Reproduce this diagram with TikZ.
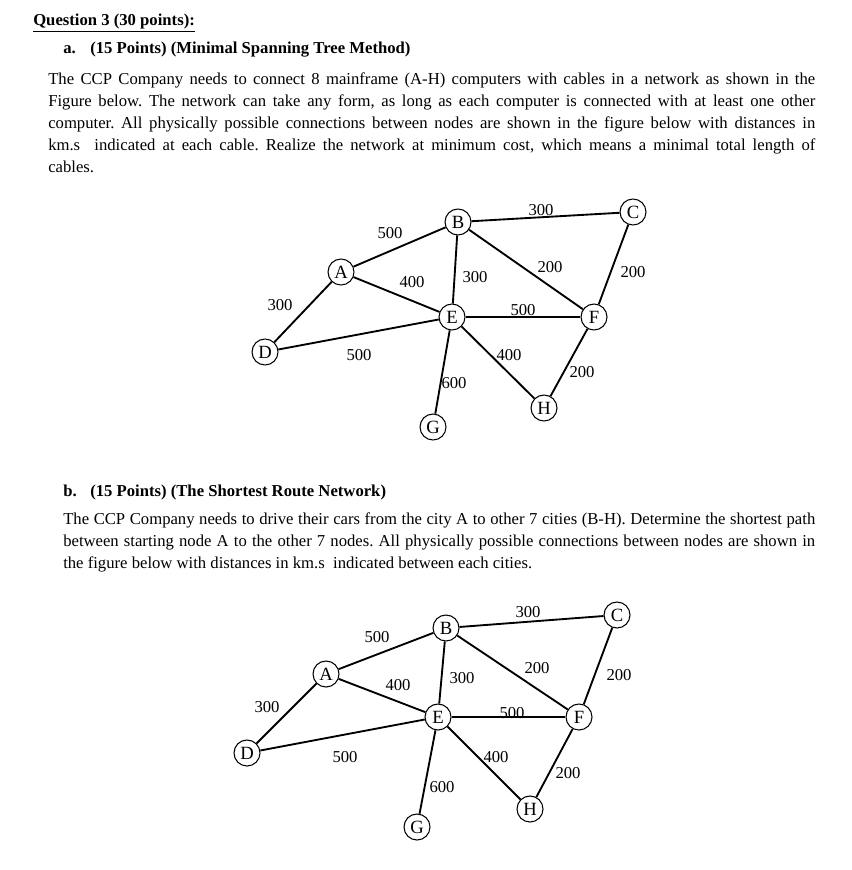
\documentclass[tikz,border=0pt]{standalone}
\usepackage{fontspec}
\setmainfont{Liberation Serif}
\frenchspacing
\usetikzlibrary{positioning}

\begin{document}
\begin{tikzpicture}[x=0.75pt,y=-0.75pt,
  city/.style={draw,circle,line width=0.8pt,minimum size=19.5pt,inner sep=0pt,font=\fontsize{14}{14}\selectfont},
  dist/.style={inner sep=0pt,font=\fontsize{12.5}{12.5}\selectfont},
  cable/.style={line width=1.4pt},
  para/.style={anchor=north west,inner sep=0pt,align=justify,font=\fontsize{12.5}{16.5}\selectfont},
  head/.style={anchor=base west,inner sep=0pt,font=\fontsize{12.5}{14}\selectfont\bfseries}]
  \useasboundingbox[fill=white] (0,0) rectangle (851,870);
  % Question heading
  \node[head] (quest) at (33,26) {\underline{Question 3 (30 points):}};
  \node[head] (parta) at (63,54) {a.};
  \node[head] (titlea) at (90,54) {(15 Points) (Minimal Spanning Tree Method)};
  \node[para,text width=575.25pt] (texta) at (48,72) {The CCP Company needs to connect 8 mainframe (A-H) computers with cables in a network as shown in the\linebreak
    Figure below. The network can take any form, as long as each computer is connected with at least one other\linebreak
    computer. All physically possible connections between nodes are shown in the figure below with distances in\linebreak
    km.s~ indicated at each cable. Realize the network at minimum cost, which means a minimal total length of\linebreak
    cables.};
  % Spanning tree network
  \node[city] (a1) at (341,272) {A};
  \node[city] (b1) at (458,222) {B};
  \node[city] (c1) at (633,212) {C};
  \node[city] (d1) at (265,352) {D};
  \node[city] (e1) at (452,317) {E};
  \node[city] (f1) at (594,317) {F};
  \node[city] (g1) at (433,427) {G};
  \node[city] (h1) at (544,408) {H};
  \draw[cable] (a1) -- (b1);
  \draw[cable] (b1) -- (c1);
  \draw[cable] (a1) -- (d1);
  \draw[cable] (a1) -- (e1);
  \draw[cable] (b1) -- (e1);
  \draw[cable] (b1) -- (f1);
  \draw[cable] (c1) -- (f1);
  \draw[cable] (e1) -- (f1);
  \draw[cable] (d1) -- (e1);
  \draw[cable] (e1) -- (h1);
  \draw[cable] (f1) -- (h1);
  \draw[cable] (e1) -- (g1);
  \node[dist] (ab1) at (390,233) {500};
  \node[dist] (bc1) at (541,210) {300};
  \node[dist] (ad1) at (280,305) {300};
  \node[dist] (ae1) at (412,282) {400};
  \node[dist] (be1) at (475,277) {300};
  \node[dist] (bf1) at (550,267) {200};
  \node[dist] (cf1) at (633,272) {200};
  \node[dist] (ef1) at (523,310) {500};
  \node[dist] (de1) at (359,355) {500};
  \node[dist] (eh1) at (509,355) {400};
  \node[dist] (fh1) at (582,372) {200};
  \node[dist] (eg1) at (454,383) {600};
  % Shortest route heading
  \node[head] (partb) at (63,496) {b.};
  \node[head] (titleb) at (90,496) {(15 Points) (The Shortest Route Network)};
  \node[para,text width=564pt] (textb) at (63,512) {The CCP Company needs to drive their cars from the city A to other 7 cities (B-H). Determine the shortest path\linebreak
    between starting node A to the other 7 nodes. All physically possible connections between nodes are shown in\linebreak
    the figure below with distances in km.s~ indicated between each cities.};
  % Shortest route network
  \node[city] (a2) at (326,674) {A};
  \node[city] (b2) at (446,628) {B};
  \node[city] (c2) at (617,615) {C};
  \node[city] (d2) at (247,753) {D};
  \node[city] (e2) at (438,717) {E};
  \node[city] (f2) at (579,717) {F};
  \node[city] (g2) at (417,827) {G};
  \node[city] (h2) at (530,809) {H};
  \draw[cable] (a2) -- (b2);
  \draw[cable] (b2) -- (c2);
  \draw[cable] (a2) -- (d2);
  \draw[cable] (a2) -- (e2);
  \draw[cable] (b2) -- (e2);
  \draw[cable] (b2) -- (f2);
  \draw[cable] (c2) -- (f2);
  \draw[cable] (e2) -- (f2);
  \draw[cable] (d2) -- (e2);
  \draw[cable] (e2) -- (h2);
  \draw[cable] (f2) -- (h2);
  \draw[cable] (e2) -- (g2);
  \node[dist] (ab2) at (377,637) {500};
  \node[dist] (bc2) at (528,612) {300};
  \node[dist] (ad2) at (267,707) {300};
  \node[dist] (ae2) at (398,685) {400};
  \node[dist] (be2) at (462,678) {300};
  \node[dist] (bf2) at (537,668) {200};
  \node[dist] (cf2) at (619,675) {200};
  \node[dist] (ef2) at (512,713) {500};
  \node[dist] (de2) at (345,757) {500};
  \node[dist] (eh2) at (496,757) {400};
  \node[dist] (fh2) at (568,773) {200};
  \node[dist] (eg2) at (442,787) {600};
\end{tikzpicture}
\end{document}
